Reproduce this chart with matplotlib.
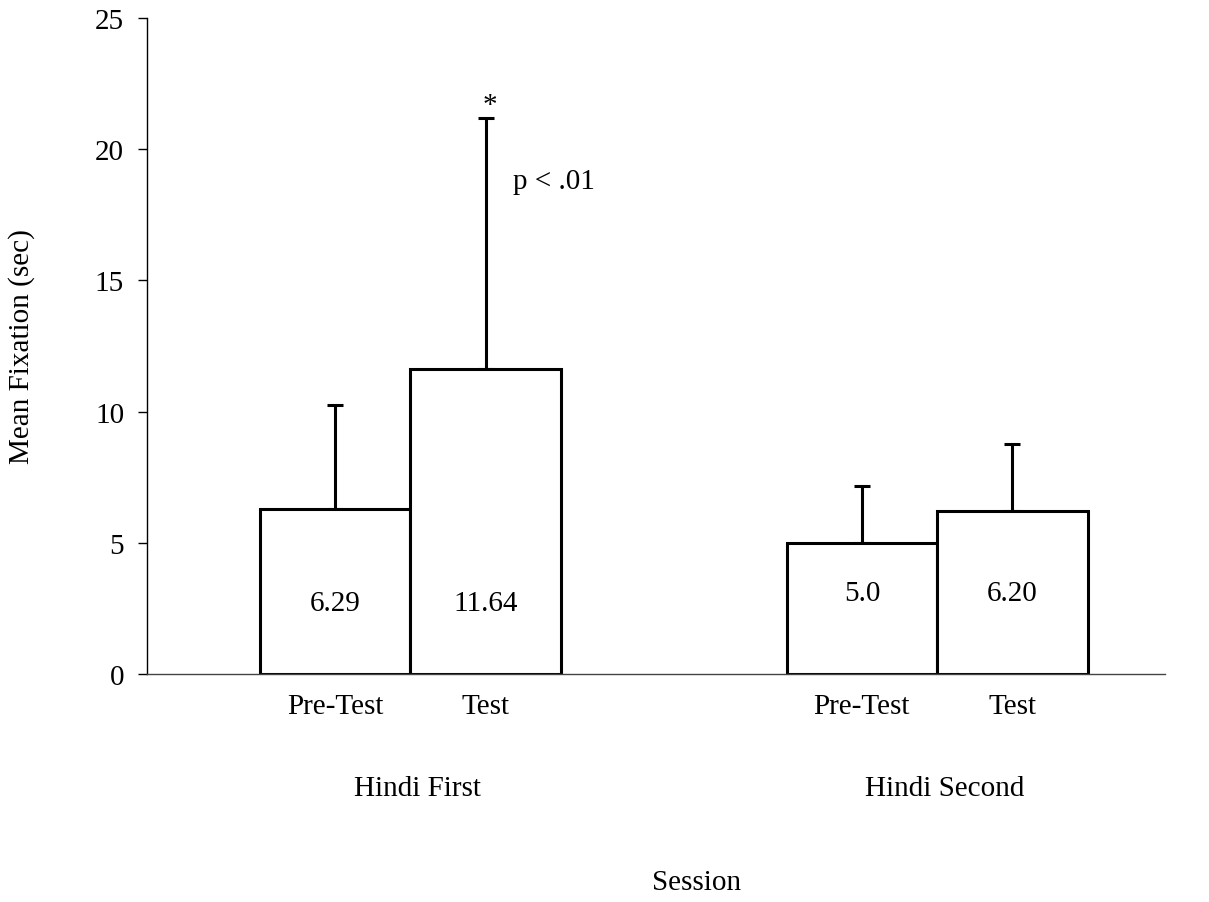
import numpy as np
import matplotlib.pyplot as plt

plt.rcParams['font.family'] = ['Liberation Serif', 'DejaVu Serif']

# values
groups = ['Hindi First', 'Hindi Second']
sessions = ['Pre-Test', 'Test']
means = [6.29, 11.64, 5.0, 6.20]
upper_err = [3.95, 9.55, 2.17, 2.57]
value_labels = ['6.29', '11.64', '5.0', '6.20']
label_heights = [2.7, 2.7, 3.1, 3.1]

xpos = np.array([1.25, 2.25, 4.75, 5.75])
fs = 21

fig = plt.figure(figsize=(12.09, 9.03), dpi=100)
ax = fig.add_axes([147 / 1209, 1 - 675 / 903, 1018 / 1209, 656 / 903])

ax.bar(xpos, means, width=1.0, color='white', edgecolor='black', linewidth=2.2, zorder=2)
ax.errorbar(xpos, means, yerr=[np.zeros(4), upper_err], fmt='none', ecolor='black',
            elinewidth=2.2, capsize=5.8, capthick=2.2, zorder=1)

for x, h, t in zip(xpos, label_heights, value_labels):
    ax.text(x, h, t, ha='center', va='center', fontsize=fs)

ax.text(xpos[1] + 0.03, 21.7, '*', ha='center', va='center', fontsize=fs)
ax.text(2.43, 18.8, 'p < .01', ha='left', va='center', fontsize=fs)

ax.set_xlim(0, 1018 / 150.5)
ax.set_ylim(0, 25)
ax.set_yticks(np.arange(0, 26, 5))
ax.tick_params(axis='y', labelsize=fs, direction='out', length=6.5, width=1, pad=10)
ax.set_xticks(xpos)
ax.set_xticklabels(sessions * 2)
ax.tick_params(axis='x', labelsize=fs, length=0, pad=14)

for s in ['top', 'right']:
    ax.spines[s].set_visible(False)
ax.spines['left'].set_linewidth(1)
ax.spines['bottom'].set_linewidth(1)
ax.spines['bottom'].set_color('#444444')

for g, cx in zip(groups, [(xpos[0] + xpos[1]) / 2, (xpos[2] + xpos[3]) / 2]):
    ax.text(cx + 0.05, -4.35, g, ha='center', va='center', fontsize=fs)

fig.text(697 / 1209, 1 - 883 / 903, 'Session', ha='center', va='center', fontsize=fs)
fig.text(22 / 1209, 1 - 347 / 903, 'Mean Fixation (sec)', ha='center', va='center',
         rotation=90, fontsize=fs)

fig.savefig('out.png', dpi=100)
